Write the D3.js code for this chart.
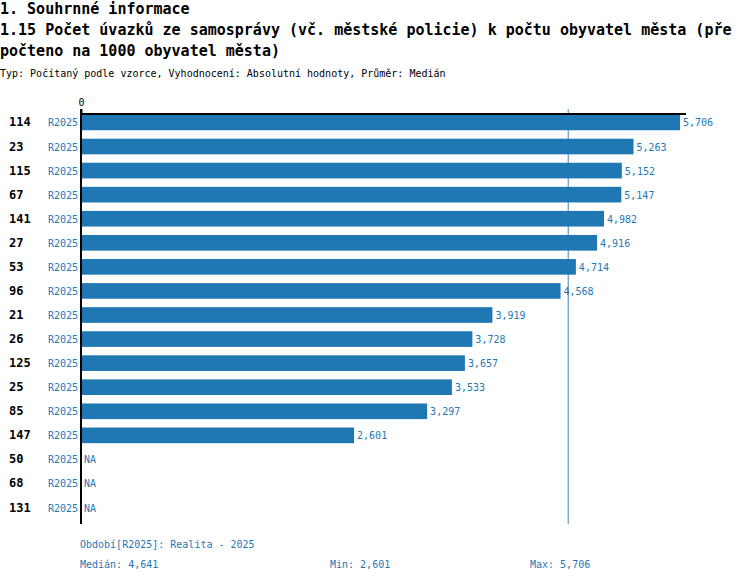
<!DOCTYPE html>
<html><head><meta charset="utf-8">
<script src="https://cdn.jsdelivr.net/npm/d3@7/dist/d3.min.js"></script>
<style>body{margin:0;background:#fff}svg{display:block}text{font-family:"DejaVu Sans Mono",monospace}</style>
</head><body>
<script>
const categories = ["114","23","115","67","141","27","53","96","21","26","125","25","85","147","50","68","131"];
const periods = ["R2025","R2025","R2025","R2025","R2025","R2025","R2025","R2025","R2025","R2025","R2025","R2025","R2025","R2025","R2025","R2025","R2025"];
const values = [5706,5263,5152,5147,4982,4916,4714,4568,3919,3728,3657,3533,3297,2601,null,null,null];
const median = 4641, minV = 2601, maxV = 5706;
const titleLines = ["1. Souhrnné informace","1.15 Počet úvazků ze samosprávy (vč. městské policie) k počtu obyvatel města (pře","počteno na 1000 obyvatel města)"];
const subtitle = "Typ: Počítaný podle vzorce, Vyhodnocení: Absolutní hodnoty, Průměr: Medián";

const W = 750, H = 582, blue = "#1f77b4";
const svg = d3.select("body").append("svg").attr("width", W).attr("height", H);

titleLines.forEach((t, i) => svg.append("text").attr("x", 0).attr("y", 14 + i * 21)
  .attr("font-size", 15).attr("font-weight", "bold").attr("fill", "#000").text(t));
svg.append("text").attr("x", 0).attr("y", 77).attr("font-size", 10).attr("fill", "#000").text(subtitle);

const x = d3.scaleLinear().domain([0, maxV * 1.01]).range([81, 686]);
const y = d3.scaleBand().domain(categories).range([111, 519]).paddingInner(0.35).paddingOuter(0.15);

// median line
svg.append("line").attr("x1", x(median)).attr("x2", x(median)).attr("y1", 109).attr("y2", 524)
  .attr("stroke", "#4682b4").attr("stroke-width", 1);

const rows = svg.append("g");
categories.forEach((c, i) => {
  const cy = y(c) + y.bandwidth() / 2;
  rows.append("text").attr("x", 9).attr("y", cy + 4).attr("font-size", 12).attr("font-weight", "bold").attr("fill", "#000").text(c);
  rows.append("text").attr("x", 78).attr("y", cy + 4).attr("font-size", 10).attr("text-anchor", "end").attr("fill", blue).text(periods[i]);
  const v = values[i];
  if (v != null) {
    rows.append("rect").attr("x", x(0)).attr("y", y(c)).attr("width", x(v) - x(0)).attr("height", y.bandwidth()).attr("fill", blue);
    rows.append("text").attr("x", x(v) + 3).attr("y", cy + 4).attr("font-size", 10).attr("fill", blue).text(d3.format(",")(v));
  } else {
    rows.append("text").attr("x", x(0) + 3).attr("y", cy + 4).attr("font-size", 10).attr("fill", blue).text("NA");
  }
});

// axes
const ax = svg.append("g").attr("transform", "translate(0,114)")
  .call(d3.axisTop(x).tickValues([0]).tickSize(5).tickFormat(d3.format("d")));
ax.select(".domain").attr("stroke", "#000").attr("stroke-width", 2).attr("d", `M${x(0)},0H${x.range()[1]}`);
ax.selectAll(".tick line").attr("stroke", "#000").attr("stroke-width", 2);
ax.selectAll("text").attr("font-size", 10).attr("font-family", "DejaVu Sans Mono").attr("fill", "#000").attr("y", -8).attr("dy", "0");
svg.append("line").attr("x1", x(0)).attr("x2", x(0)).attr("y1", 109).attr("y2", 524).attr("stroke", "#000").attr("stroke-width", 2);

svg.append("text").attr("x", 80).attr("y", 548).attr("font-size", 10).attr("fill", blue).text("Období[R2025]: Realita - 2025");
svg.append("text").attr("x", 80).attr("y", 568).attr("font-size", 10).attr("fill", blue).text("Medián: " + d3.format(",")(median));
svg.append("text").attr("x", 330).attr("y", 568).attr("font-size", 10).attr("fill", blue).text("Min: " + d3.format(",")(minV));
svg.append("text").attr("x", 530).attr("y", 568).attr("font-size", 10).attr("fill", blue).text("Max: " + d3.format(",")(maxV));
</script>
</body></html>
